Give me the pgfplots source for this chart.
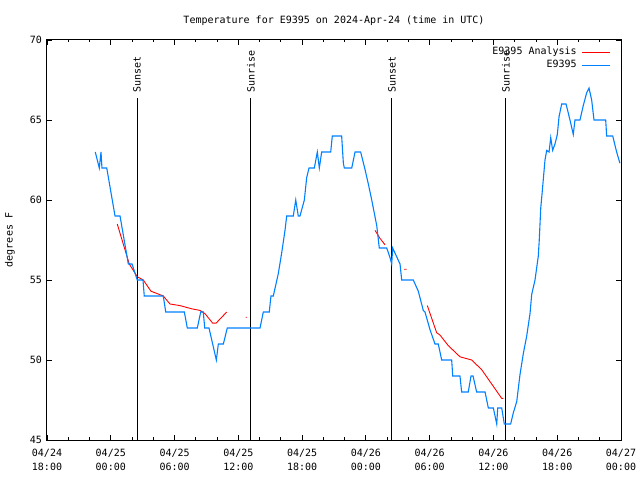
\documentclass[border=0pt]{standalone}
\usepackage{pgfplots}
\pgfplotsset{compat=1.18}
\usepackage{fontspec}
\setmonofont{DejaVu Sans Mono}
\definecolor{gblue}{RGB}{0,128,255}
\definecolor{gred}{RGB}{255,0,0}
\newcommand{\gf}{\ttfamily\fontsize{10bp}{14bp}\selectfont}
\begin{document}
\begin{tikzpicture}
\useasboundingbox (0,0) rectangle (640bp,480bp);
\begin{axis}[
  at={(47bp,40bp)}, anchor=south west,
  scale only axis, width=574bp, height=400bp,
  xmin=0, xmax=54, ymin=45, ymax=70,
  xtick={0,6,...,54},
  xticklabels={{04/24\\18:00},{04/25\\00:00},{04/25\\06:00},{04/25\\12:00},{04/25\\18:00},{04/26\\00:00},{04/26\\06:00},{04/26\\12:00},{04/26\\18:00},{04/27\\00:00}},
  minor x tick num=2,
  ytick={45,50,...,70},
  /pgf/number format/assume math mode=true,
  axis line style={line width=1bp},
  tick style={black, line width=0.8bp},
  major tick length=5bp, minor tick length=2.5bp,
  xticklabel style={font=\gf, align=center, anchor=north, inner sep=0pt, yshift=-9bp},
  yticklabel style={font=\gf, anchor=east, inner sep=0pt, xshift=-5bp},
  unbounded coords=jump,
  legend style={at={(1,1)}, anchor=north east, xshift=-7bp, yshift=-5bp, draw=none, fill=none, font=\gf,
    nodes={inner sep=0pt, text height=7.5bp, text depth=2.5bp}, row sep=3bp, column sep=5bp},
  legend cell align=right,
  legend plot pos=right,
  legend image code/.code={\draw[#1] (0bp,0bp) -- (28bp,0bp);},
]
% sunrise / sunset markers
\addplot[black, line width=1bp, forget plot] coordinates {(8.47,45) (8.47,66.375)}
  node[pos=1, rotate=90, anchor=west, inner xsep=5bp, inner ysep=0pt, font=\gf] {Sunset};
\addplot[black, line width=1bp, forget plot] coordinates {(19.19,45) (19.19,66.375)}
  node[pos=1, rotate=90, anchor=west, inner xsep=5bp, inner ysep=0pt, font=\gf] {Sunrise};
\addplot[black, line width=1bp, forget plot] coordinates {(32.45,45) (32.45,66.375)}
  node[pos=1, rotate=90, anchor=west, inner xsep=5bp, inner ysep=0pt, font=\gf] {Sunset};
\addplot[black, line width=1bp, forget plot] coordinates {(43.18,45) (43.18,66.375)}
  node[pos=1, rotate=90, anchor=west, inner xsep=5bp, inner ysep=0pt, font=\gf] {Sunrise};
% analysis
\addplot[gred, line width=0.9bp] coordinates {
(6.61,58.5) (7.74,56.0) (8.50,55.2) (9.06,55.0) (9.78,54.3) (10.94,54.0) (11.57,53.5) (12.51,53.4)
(13.61,53.2) (14.39,53.1) (14.86,52.9) (15.59,52.3) (15.90,52.3) (16.91,53.0)
(17.5,nan)
(18.69,52.67) (18.82,52.67)
(19.5,nan)
(30.86,58.1) (31.33,57.6) (31.80,57.2)
(32.8,nan)
(33.59,55.67) (33.84,55.67)
(34.8,nan)
(35.78,53.4) (36.66,51.7) (36.97,51.56) (37.75,50.9) (38.54,50.4) (38.85,50.2) (39.95,50.0)
(40.89,49.4) (42.78,47.6) (42.93,47.6)
};
\addlegendentry{E9395 Analysis}
% observations
\addplot[gblue, line width=1.1bp] coordinates {
(4.54,63) (4.92,62) (5.08,63) (5.17,62) (5.62,62) (6.40,59) (6.87,59) (7.65,56) (8.00,56) (8.49,55)
(9.03,55) (9.15,54) (10.94,54) (11.17,53) (12.92,53) (13.20,52) (14.14,52) (14.46,53) (14.70,53)
(14.84,52) (15.24,52) (15.93,50) (16.12,51) (16.59,51) (16.96,52) (20.04,52) (20.35,53) (20.91,53)
(21.07,54) (21.29,54) (21.76,55.4) (22.08,56.7) (22.39,58.1) (22.55,59) (23.17,59) (23.40,60)
(23.64,59) (23.80,59) (24.21,60) (24.43,61.4) (24.65,62) (25.15,62) (25.43,63) (25.62,62) (25.84,63)
(26.69,63) (26.84,64) (27.72,64) (27.88,62.3) (27.97,62) (28.67,62) (28.98,63) (29.51,63) (29.92,61.9)
(30.23,61) (30.55,60) (31.02,58.4) (31.26,57) (31.96,57) (32.27,56.4) (32.43,56) (32.52,57) (33.21,56)
(33.37,55) (34.46,55) (34.93,54.3) (35.40,53.1) (35.56,53) (36.03,51.9) (36.50,51) (36.81,51)
(37.13,50) (38.07,50) (38.17,49) (38.85,49) (39.01,48) (39.63,48) (39.89,49) (40.08,49) (40.42,48)
(41.21,48) (41.52,47) (41.99,47) (42.31,46) (42.40,47) (42.78,47) (43.02,46) (43.62,46) (43.87,46.7)
(44.19,47.4) (44.50,49.1) (44.81,50.4) (45.13,51.5) (45.44,52.9) (45.60,54.1) (45.91,55) (46.22,56.5)
(46.31,57.5) (46.45,59.5) (46.60,60.6) (46.85,62.5) (47.01,63.1) (47.23,63) (47.39,63.9) (47.57,63.1)
(47.79,63.5) (48.01,64.1) (48.17,65.2) (48.42,66) (48.83,66) (49.20,65) (49.51,64.1) (49.67,65)
(50.14,65) (50.45,65.9) (50.77,66.7) (50.99,67) (51.24,66.25) (51.46,65) (52.56,65) (52.65,64)
(53.22,64) (53.59,63) (53.90,62.3)
};
\addlegendentry{E9395}
\end{axis}
\node[font=\gf] at (334bp,459bp) {Temperature for E9395 on 2024-Apr-24 (time in UTC)};
\node[font=\gf, rotate=90] at (10bp,240bp) {degrees F};
\end{tikzpicture}
\end{document}
